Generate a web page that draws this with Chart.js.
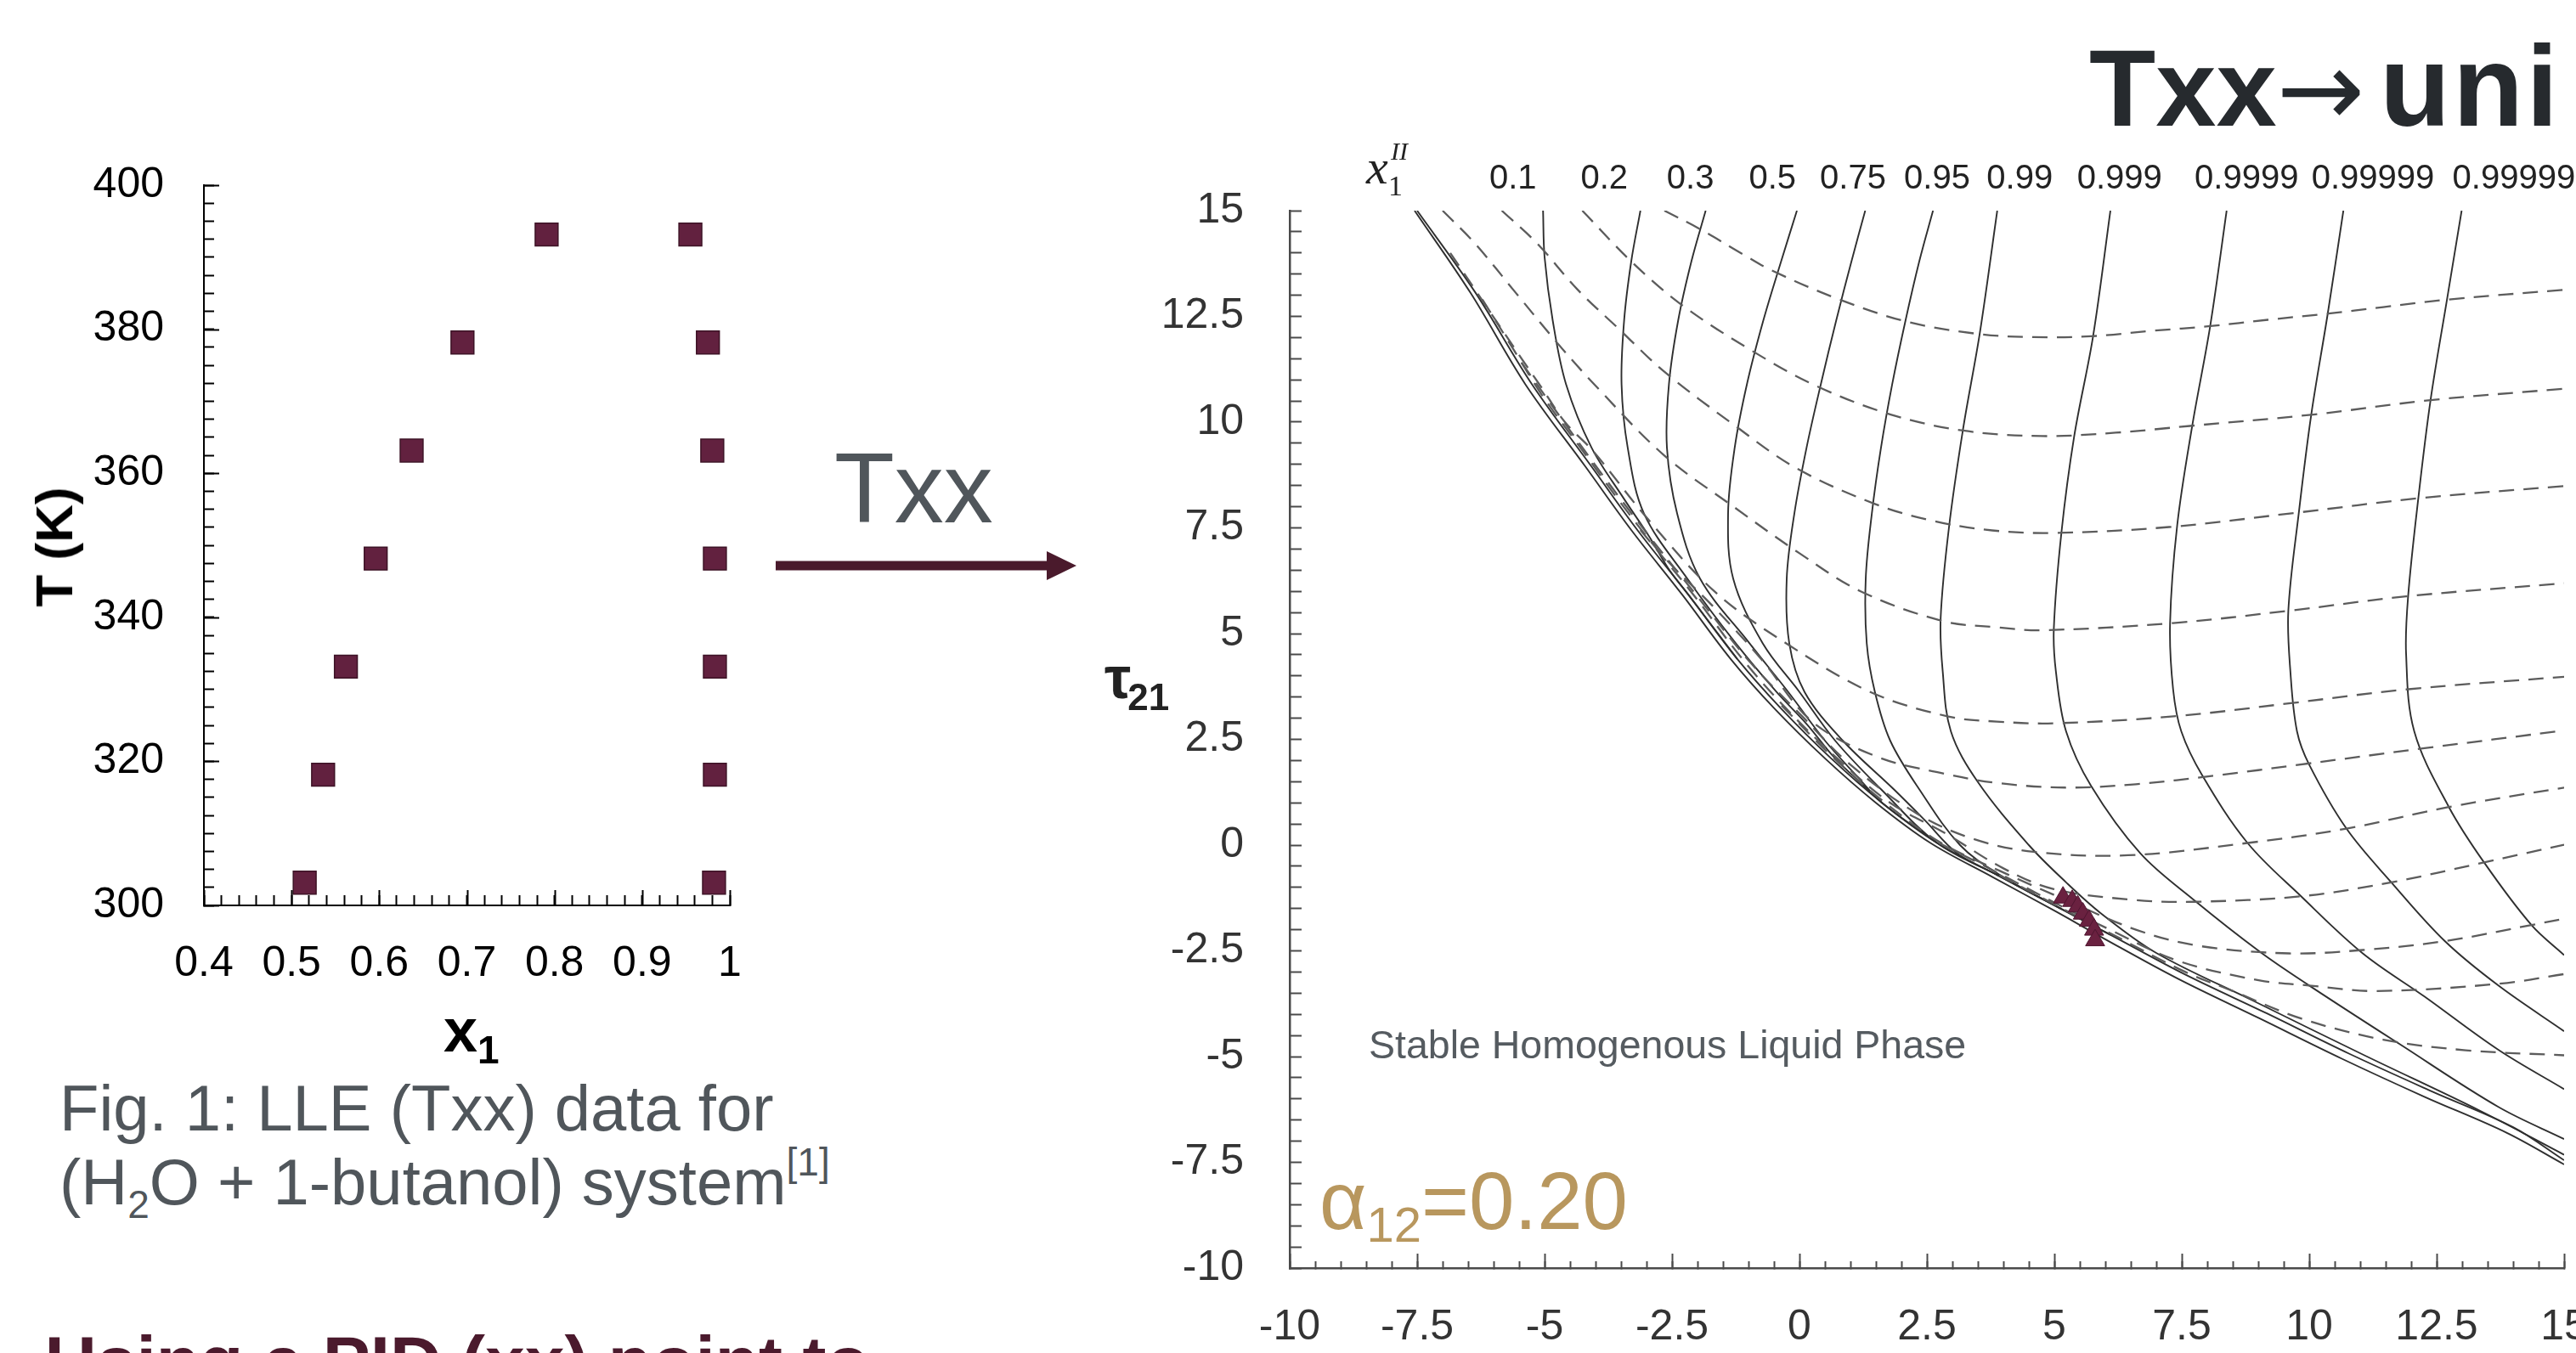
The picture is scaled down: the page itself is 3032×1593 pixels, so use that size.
<!DOCTYPE html>
<html><head><meta charset="utf-8">
<script src="https://cdn.jsdelivr.net/npm/chart.js@4"></script>
<style>
html,body{margin:0;padding:0;background:#fff;overflow:hidden;}
body{width:3032px;height:1593px;position:relative;font-family:'Liberation Sans',Arial,sans-serif;}
.abs{position:absolute;white-space:nowrap;line-height:1;}
#leftBox{position:absolute;left:0;top:120px;width:1000px;height:1100px;}
#rightBox{position:absolute;left:1250px;top:150px;width:1850px;height:1443px;}
</style></head><body>
<div id="leftBox"><canvas id="lc"></canvas></div>
<div id="rightBox"><canvas id="rc"></canvas></div>

<div class="abs" style="left:2459px;top:33px;font-size:128px;font-weight:700;color:#262a2e;">Txx<span style="font-family:'DejaVu Sans',sans-serif;font-weight:400;font-size:124px;margin-right:-18px;">→</span> <span style="font-size:136px;letter-spacing:3px;">uni</span></div>
<div class="abs" style="left:982px;top:517px;font-size:116px;color:#50565b;">Txx</div>
<svg style="position:absolute;left:900px;top:630px;" width="400" height="80">
  <rect x="13" y="30.5" width="321" height="11" fill="#4a1a2c"/>
  <polygon points="332,19 367,36 332,53" fill="#4a1a2c"/>
</svg>
<div class="abs" style="left:64px;top:644px;font-size:62px;font-weight:700;color:#000;transform:translate(-50%,-50%) rotate(-90deg);">T (K)</div>
<div class="abs" style="left:522px;top:1177px;font-size:72px;font-weight:700;color:#000;">x<span style="font-size:46px;position:relative;top:14px;">1</span></div>
<div class="abs" style="left:70px;top:1267px;font-size:76px;color:#50565b;">Fig. 1: LLE (Txx) data for</div>
<div class="abs" style="left:70px;top:1354px;font-size:76px;color:#50565b;">(H<span style="font-size:46px;position:relative;top:16px;">2</span>O + 1-butanol) system<span style="font-size:46px;position:relative;top:-34px;">[1]</span></div>
<div class="abs" style="left:53px;top:1561px;font-size:84px;font-weight:700;color:#4b1a2d;">Using a PID (xx) point to</div>
<div class="abs" style="left:1300px;top:763px;font-size:70px;font-weight:700;color:#222;">τ<span style="font-size:44px;position:relative;top:14px;margin-left:-4px;">21</span></div>
<div class="abs" style="left:1611px;top:1207px;font-size:46.5px;color:#555b60;">Stable Homogenous Liquid Phase</div>
<div class="abs" style="left:1553px;top:1366px;font-size:96px;color:#b8975e;">α<span style="font-size:58px;position:relative;top:15px;">12</span>=0.20</div>

<script>
// ---------- Left chart data: LLE (Txx) ----------
const T_K = [303.15, 318.15, 333.15, 348.15, 363.15, 378.15, 393.15];
const x1_phaseI = [0.515, 0.536, 0.562, 0.596, 0.637, 0.695, 0.791];
const x1_phaseII = [0.982, 0.983, 0.983, 0.983, 0.980, 0.975, 0.955];
const leftXMajor = [0.4, 0.5, 0.6, 0.7, 0.8, 0.9, 1.0];
const leftYMajor = [300, 320, 340, 360, 380, 400];

// ---------- Right chart data: tau21 vs tau12 map ----------
const tau12_fit = [5.17, 5.35, 5.46, 5.56, 5.68, 5.78, 5.80];
const tau21_fit = [-1.24, -1.32, -1.45, -1.62, -1.79, -2.00, -2.25];
const rightXMajor = [-10, -7.5, -5, -2.5, 0, 2.5, 5, 7.5, 10, 12.5, 15];
const contourLabels = ['0.1','0.2','0.3','0.5','0.75','0.95','0.99','0.999','0.9999','0.99999','0.999999'];
const contourLabelAt = [-5.62, -3.83, -2.14, -0.53, 1.05, 2.70, 4.32, 6.28, 8.77, 11.25, 14.2];

// envelope (stability boundary)
const envOuter = [[-7.55,15],[-6.45,13.05],[-5.38,10.9],[-4.2,8.95],[-3.3,7.45],[-2.3,5.92],[-1.35,4.4],[-0.5,3.24],[0.5,2.05],[1.5,1.0],[2.57,0.05],[3.78,-0.75],[5.0,-1.55],[5.96,-2.2],[7.41,-3.15],[9.03,-4.1],[10.64,-5.05],[12.26,-5.95],[13.87,-6.8],[15,-7.55]];
const envInner = [[-7.5,15],[-6.35,13.05],[-5.25,10.9],[-4.08,8.95],[-3.18,7.45],[-2.18,5.92],[-1.22,4.4],[-0.37,3.24],[0.62,2.05],[1.62,1.0],[2.7,0.05],[3.9,-0.72],[5.12,-1.5],[6.1,-2.12],[7.55,-3.05],[9.17,-3.98],[10.78,-4.93],[12.4,-5.82],[14.0,-6.67],[15,-7.45]];

// solid contours x1^II
const xII_0_1 = [[-5.03,15],[-5.0,13.9],[-4.84,12.4],[-4.58,10.9],[-4.08,9.4],[-3.45,8.2],[-2.95,7.3],[-2.55,6.5],[-2.18,5.92],[-1.22,4.4]];
const xII_0_2 = [[-3.12,15],[-3.3,13.8],[-3.44,12.4],[-3.49,10.9],[-3.37,9.4],[-3.05,7.84],[-2.2,6.3],[-1.25,4.77],[-0.45,3.62],[0.15,2.85],[0.7,2.05],[1.62,1.0]];
const xII_0_3 = [[-1.84,15],[-2.12,13.8],[-2.38,12.4],[-2.56,10.9],[-2.6,9.4],[-2.4,7.84],[-1.95,6.3],[-0.98,4.77],[-0.22,3.62],[0.5,2.47],[1.15,1.6],[1.62,1.0],[2.7,0.05]];
const xII_0_5 = [[-0.05,15],[-0.36,13.8],[-0.71,12.4],[-1.03,10.9],[-1.27,9.4],[-1.4,7.84],[-1.3,6.3],[-0.72,4.77],[0.0,3.62],[0.7,2.47],[1.6,1.32],[2.7,0.05],[3.9,-0.72]];
const xII_0_75 = [[1.29,15],[1.02,13.8],[0.72,12.4],[0.42,10.9],[0.14,9.4],[-0.1,7.84],[-0.25,6.3],[-0.2,4.77],[0.1,3.62],[0.85,2.47],[1.85,1.32],[2.45,0.6],[3.1,-0.2],[3.9,-0.72],[5.12,-1.5]];
const xII_0_95 = [[2.62,15],[2.35,13.8],[2.08,12.4],[1.82,10.9],[1.6,9.4],[1.42,7.84],[1.3,6.3],[1.32,4.77],[1.48,3.62],[1.78,2.47],[2.35,1.32],[3.15,0.0],[3.95,-0.72],[5.12,-1.5],[6.1,-2.12]];
const xII_0_99 = [[3.88,15],[3.54,12.12],[3.21,9.84],[2.93,7.48],[2.77,5.37],[2.81,4.11],[2.97,2.69],[3.5,1.49],[4.5,0.0],[5.23,-0.88],[5.9,-1.6],[7.0,-2.55],[8.9,-3.68],[11.1,-4.98],[13.35,-6.28],[15,-7.32]];
const xII_0_999 = [[6.10,15],[5.76,12.03],[5.39,9.67],[5.14,7.4],[4.99,5.12],[5.03,4.11],[5.23,2.69],[5.72,1.4],[6.69,-0.2],[7.74,-1.3],[9.03,-2.52],[10.0,-3.32],[11.78,-4.71],[13.71,-6.19],[15,-6.95]];
const xII_0_9999 = [[8.38,15],[8.06,12.29],[7.7,9.88],[7.41,7.56],[7.27,5.24],[7.33,3.68],[7.49,2.69],[7.9,1.65],[8.79,0.05],[9.84,-1.21],[11.05,-2.56],[12.26,-3.58],[13.71,-4.84],[15,-5.77]];
const xII_0_99999 = [[10.67,15],[10.36,12.54],[10.04,10.18],[9.8,7.9],[9.59,5.54],[9.63,4.11],[9.76,2.69],[10.0,1.9],[10.73,0.39],[11.61,-0.88],[12.66,-2.27],[13.71,-3.32],[15,-4.4]];
const xII_0_999999 = [[12.99,15],[12.7,12.88],[12.38,10.52],[12.14,8.2],[11.94,5.88],[11.9,4.53],[12.06,2.69],[12.74,0.9],[13.43,-0.41],[14.36,-1.89],[15,-2.6]];

// dashed contours
const dash1 = [[-2.65,15],[-1.96,14.57],[-1.11,13.97],[-0.55,13.59],[0.74,12.92],[2.12,12.37],[3.54,12.08],[4.59,12.01],[5.72,12.03],[6.93,12.16],[8.06,12.27],[9.19,12.42],[10.32,12.56],[11.45,12.72],[12.74,12.9],[15,13.13]];
const dash2 = [[-4.26,15],[-3.3,13.8],[-2.33,12.79],[-0.95,11.7],[0.34,10.85],[1.79,10.18],[3.21,9.8],[4.75,9.67],[6.2,9.75],[7.66,9.91],[10.08,10.18],[12.38,10.52],[15,10.79]];
const dash3 = [[-5.84,15],[-5.15,14.23],[-4.35,13.13],[-3.54,12.2],[-2.65,11.19],[-1.28,9.93],[-0.06,8.91],[1.47,8.07],[2.6,7.67],[3.78,7.44],[4.99,7.38],[7.25,7.52],[9.76,7.86],[12.14,8.2],[15,8.49]];
const dash4 = [[-7.0,15],[-6.37,14.23],[-5.56,13.05],[-4.75,11.87],[-4.03,10.9],[-2.66,9.22],[-1.28,7.99],[0.0,6.9],[1.2,6.0],[2.8,5.3],[3.87,5.15],[4.75,5.08],[7.33,5.25],[9.6,5.54],[11.9,5.88],[15,6.19]];
const dash5 = [[-6.85,14.0],[-6.15,12.75],[-5.45,11.5],[-5.05,10.8],[-4.6,10.0],[-4.03,9.29],[-3.01,7.76],[-1.67,6.0],[-0.26,4.77],[1.39,3.62],[2.92,3.04],[3.87,2.92],[5.0,2.88],[7.4,3.05],[9.6,3.35],[11.9,3.68],[15,3.98]];
const dash6 = [[-6.22,12.9],[-5.6,11.7],[-5.03,10.6],[-4.3,9.4],[-3.45,8.0],[-2.65,6.8],[-1.7,5.65],[-0.75,4.4],[0.24,2.93],[1.52,2.09],[2.8,1.7],[3.87,1.47],[5.2,1.36],[6.6,1.44],[8.2,1.65],[9.8,1.9],[12.26,2.29],[15,2.71]];
const dash7 = [[-5.45,11.4],[-4.62,10.0],[-3.77,8.6],[-2.88,7.2],[-1.95,5.8],[-0.95,4.3],[0.05,3.05],[1.0,1.9],[2.3,0.75],[3.4,0.15],[4.59,-0.16],[6.45,-0.24],[8.79,0.05],[10.73,0.39],[12.74,0.9],[15,1.36]];
const dash8 = [[-3.12,7.45],[-2.08,5.92],[-1.12,4.4],[-0.27,3.24],[0.74,2.05],[1.78,1.0],[2.89,0.26],[4.0,-0.55],[4.99,-1.04],[6.6,-1.3],[7.74,-1.34],[9.84,-1.21],[11.61,-0.88],[13.43,-0.41],[15,0.01]];
const dash9 = [[-0.35,3.3],[0.68,2.05],[1.68,1.0],[2.78,0.05],[3.95,-0.62],[5.23,-1.3],[6.6,-2.0],[7.82,-2.38],[9.6,-2.56],[11.05,-2.48],[12.66,-2.27],[14.36,-1.89],[15,-1.74]];
const dash10 = [[2.74,0.05],[3.93,-0.68],[5.1,-1.42],[6.04,-1.97],[7.41,-2.73],[9.03,-3.2],[10.0,-3.32],[11.29,-3.45],[13.71,-3.28],[15,-3.05]];
const dash11 = [[3.92,-0.71],[5.14,-1.49],[6.12,-2.1],[7.57,-3.0],[8.5,-3.45],[9.84,-4.1],[11.45,-4.6],[13.07,-4.85],[15,-4.97]];

// ---------- helpers ----------
function isMultiple(v, step) { const r = v / step; return Math.abs(r - Math.round(r)) < 1e-6; }
function fmt(v) { return String(Math.round(v * 100) / 100); }

const majorTicks = {
  id: 'majorTicks',
  afterDraw(chart, args, opts) {
    const ctx = chart.ctx, a = chart.chartArea;
    ctx.save();
    ctx.strokeStyle = opts.color; ctx.lineWidth = opts.width;
    (opts.x || []).forEach(v => {
      const p = Math.round(chart.scales.x.getPixelForValue(v)) + 0.5;
      ctx.beginPath(); ctx.moveTo(p, a.bottom); ctx.lineTo(p, a.bottom - opts.len); ctx.stroke();
    });
    (opts.y || []).forEach(v => {
      const p = Math.round(chart.scales.y.getPixelForValue(v)) + 0.5;
      ctx.beginPath(); ctx.moveTo(a.left, p); ctx.lineTo(a.left + opts.len, p); ctx.stroke();
    });
    ctx.restore();
  }
};

const topLabels = {
  id: 'topLabels',
  afterDraw(chart) {
    const ctx = chart.ctx, a = chart.chartArea, xs = chart.scales.x;
    ctx.save();
    ctx.fillStyle = '#222';
    ctx.font = '40px "Liberation Sans", Arial, sans-serif';
    ctx.textAlign = 'center'; ctx.textBaseline = 'alphabetic';
    const base = a.top - 26;
    contourLabels.forEach((t, i) => ctx.fillText(t, xs.getPixelForValue(contourLabelAt[i]), base));
    // x1^II symbol
    const x0 = xs.getPixelForValue(-8.5);
    ctx.textAlign = 'left';
    ctx.font = 'italic 58px "Liberation Serif", "DejaVu Serif", serif';
    ctx.fillText('x', x0, base - 6);
    ctx.font = '34px "Liberation Serif", "DejaVu Serif", serif';
    ctx.fillText('1', x0 + 26, base + 8);
    ctx.font = 'italic 30px "Liberation Serif", "DejaVu Serif", serif';
    ctx.fillText('II', x0 + 29, base - 34);
    ctx.restore();
  }
};

// ---------- Left chart ----------
new Chart(document.getElementById('lc'), {
  type: 'scatter',
  data: {
    datasets: [
      { label: 'phase I', data: x1_phaseI.map((x, i) => ({ x, y: T_K[i] })), pointStyle: 'rect', pointRadius: 19, backgroundColor: '#62213f', borderColor: '#3d1326', borderWidth: 1.5 },
      { label: 'phase II', data: x1_phaseII.map((x, i) => ({ x, y: T_K[i] })), pointStyle: 'rect', pointRadius: 19, backgroundColor: '#62213f', borderColor: '#3d1326', borderWidth: 1.5 }
    ]
  },
  options: {
    responsive: true, maintainAspectRatio: false, animation: false,
    layout: { padding: { top: 98, right: 141, left: 0, bottom: 0 } },
    plugins: { legend: { display: false }, tooltip: { enabled: false },
      majorTicks: { x: leftXMajor, y: leftYMajor, len: 18, color: '#000', width: 2 } },
    scales: {
      x: { type: 'linear', min: 0.4, max: 1.0, position: 'bottom',
        afterFit: s => { s.height = 154; },
        ticks: { stepSize: 0.02, autoSkip: false, maxRotation: 0, padding: 51, color: '#000',
          font: { family: 'Liberation Sans', size: 50 },
          callback: v => isMultiple(v, 0.1) ? fmt(v) : '' },
        grid: { drawOnChartArea: false, drawTicks: true, tickLength: -12, tickColor: '#000', tickWidth: 2 },
        border: { display: true, color: '#000', width: 2 } },
      y: { type: 'linear', min: 300, max: 400,
        afterFit: s => { s.width = 240; },
        ticks: { stepSize: 2.5, autoSkip: false, padding: 59, color: '#000',
          font: { family: 'Liberation Sans', size: 50 },
          callback: v => isMultiple(v, 20) ? fmt(v) : '' },
        grid: { drawOnChartArea: false, drawTicks: true, tickLength: -12, tickColor: '#000', tickWidth: 2 },
        border: { display: true, color: '#000', width: 2 } }
    }
  },
  plugins: [majorTicks]
});

// ---------- Right chart ----------
function curve(data, dashed) {
  return { data, showLine: true, pointRadius: 0, fill: false, tension: 0.35, order: 2,
    borderColor: dashed ? '#5c5c5c' : '#2f2f2f', borderWidth: dashed ? 2.3 : 1.9,
    borderDash: dashed ? [18, 11] : [] };
}
const solids = [envOuter, envInner, xII_0_1, xII_0_2, xII_0_3, xII_0_5, xII_0_75, xII_0_95, xII_0_99, xII_0_999, xII_0_9999, xII_0_99999, xII_0_999999];
const dashes = [dash1, dash2, dash3, dash4, dash5, dash6, dash7, dash8, dash9, dash10, dash11];
const rDatasets = [
  { label: 'fit', data: tau12_fit.map((x, i) => ({ x, y: tau21_fit[i] })), showLine: false, order: 0,
    pointStyle: 'triangle', pointRadius: 13, backgroundColor: '#6a2140', borderColor: '#4f1530', borderWidth: 1 }
].concat(dashes.map(d => curve(d, true))).concat(solids.map(d => curve(d, false)));

new Chart(document.getElementById('rc'), {
  type: 'scatter',
  data: { datasets: rDatasets },
  options: {
    responsive: true, maintainAspectRatio: false, animation: false,
    layout: { padding: { top: 95.6, right: 82, left: 0, bottom: 0 } },
    plugins: { legend: { display: false }, tooltip: { enabled: false },
      majorTicks: { x: rightXMajor, len: 17, color: '#4a4a4a', width: 2 } },
    scales: {
      x: { type: 'linear', min: -10, max: 15, position: 'bottom',
        afterFit: s => { s.height = 100; },
        ticks: { stepSize: 0.5, autoSkip: false, maxRotation: 0, padding: 48, color: '#333',
          font: { family: 'Liberation Sans', size: 50 },
          callback: v => isMultiple(v, 2.5) ? fmt(v) : '' },
        grid: { drawOnChartArea: false, drawTicks: true, tickLength: -8, tickColor: '#4a4a4a', tickWidth: 2 },
        border: { display: true, color: '#4a4a4a', width: 2.5 } },
      y: { type: 'linear', min: -10, max: 15,
        afterFit: s => { s.width = 268; },
        ticks: { stepSize: 0.5, autoSkip: false, padding: 68, color: '#333',
          font: { family: 'Liberation Sans', size: 50 },
          callback: v => isMultiple(v, 2.5) ? fmt(v) : '' },
        grid: { drawOnChartArea: false, drawTicks: true, tickLength: -14, tickColor: '#4a4a4a', tickWidth: 2 },
        border: { display: true, color: '#4a4a4a', width: 2.5 } }
    }
  },
  plugins: [majorTicks, topLabels]
});
</script>
</body></html>
